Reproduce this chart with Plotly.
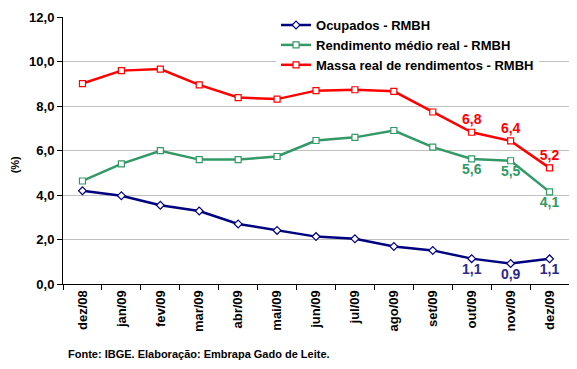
import plotly.graph_objects as go

months = ["dez/08", "jan/09", "fev/09", "mar/09", "abr/09", "mai/09", "jun/09",
          "jul/09", "ago/09", "set/09", "out/09", "nov/09", "dez/09"]
ocupados = [4.19, 3.97, 3.54, 3.28, 2.70, 2.41, 2.13, 2.03, 1.69, 1.51, 1.14, 0.92, 1.13]
rendimento = [4.63, 5.40, 5.99, 5.59, 5.59, 5.73, 6.45, 6.59, 6.90, 6.15, 5.62, 5.54, 4.14]
massa = [9.01, 9.59, 9.66, 8.95, 8.38, 8.31, 8.69, 8.73, 8.66, 7.73, 6.82, 6.43, 5.22]
names = ["Ocupados - RMBH", "Rendimento médio real - RMBH", "Massa real de rendimentos - RMBH"]
n_labeled = 3


def labels(vals):
    out = []
    for i, v in enumerate(vals):
        if i >= len(vals) - n_labeled:
            out.append(f"{v:.1f}".replace(".", ","))
        else:
            out.append("")
    return out


FONT = "Arial, Liberation Sans, sans-serif"
fig = go.Figure()
specs = [
    (ocupados, names[0], "#000080", "diamond", "bottom center", "#2a2a8a"),
    (rendimento, names[1], "#339966", "square", "bottom center", "#339966"),
    (massa, names[2], "#FF0000", "square", "top center", "#FF0000"),
]
for vals, name, color, sym, pos, tcolor in specs:
    fig.add_trace(go.Scatter(
        x=months, y=vals, name=name, mode="lines+markers+text",
        line=dict(color=color, width=2.5),
        marker=dict(symbol=sym, size=6, color="white", line=dict(color=color, width=1.2)),
        text=labels(vals), textposition=pos,
        textfont=dict(family=FONT, size=14, color=tcolor, weight="bold"),
        cliponaxis=False,
    ))

fig.update_layout(
    width=569, height=353,
    margin=dict(l=55, r=8, t=9, b=77, autoexpand=False),
    paper_bgcolor="white", plot_bgcolor="white",
    separators=",.",
    font=dict(family=FONT, color="black"),
    showlegend=True,
    legend=dict(x=0.421, y=1.026, xanchor="left", yanchor="top",
                bgcolor="white", font=dict(family=FONT, size=13, color="black", weight="bold"),
                tracegroupgap=0, itemwidth=30),
    xaxis=dict(type="category", tickangle=-90, showgrid=False, automargin=False,
               showline=True, linecolor="black", linewidth=1,
               ticks="outside", ticklen=5, tickcolor="black", tickson="boundaries",
               tickfont=dict(family=FONT, size=13, color="black", weight="bold"),
               range=[-0.5, 12.5]),
    yaxis=dict(range=[0, 12], dtick=2, tickformat=".1f", automargin=False,
               ticklabeloverflow="allow",
               showgrid=True, gridcolor="#C0C0C0", gridwidth=1,
               showline=True, linecolor="black", linewidth=1,
               ticks="outside", ticklen=5, tickcolor="black",
               tickfont=dict(family=FONT, size=13, color="black", weight="bold"),
               zeroline=False),
    annotations=[
        dict(text="<b>(%)</b>", x=-0.096, y=0.446, xref="paper", yref="paper",
             xanchor="center", yanchor="middle",
             textangle=-90, showarrow=False, font=dict(family=FONT, size=11)),
        dict(text="<b>Fonte: IBGE. Elaboração: Embrapa Gado de Leite.</b>",
             x=0.006, y=-0.262, xref="paper", yref="paper", xanchor="left",
             yanchor="middle", showarrow=False, font=dict(family=FONT, size=11)),
    ],
)
fig.write_html("out.html")
